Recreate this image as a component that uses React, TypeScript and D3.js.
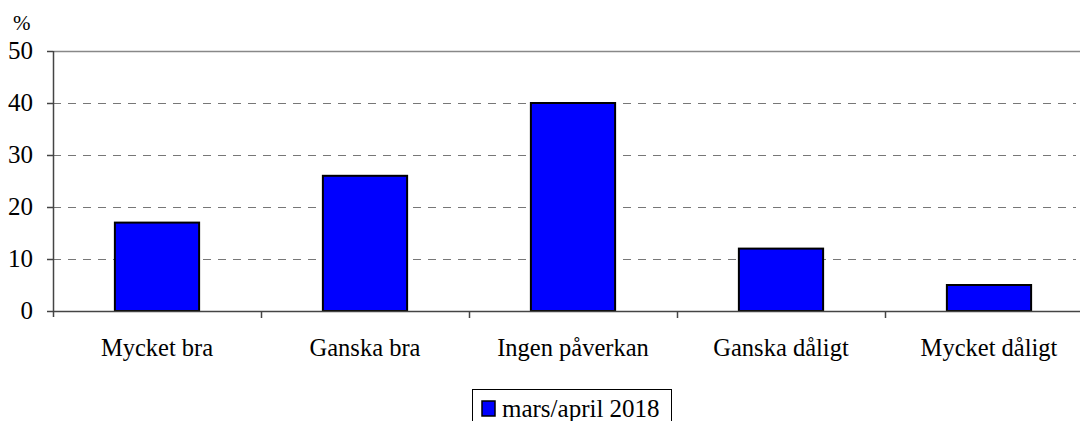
import React from "react";
import * as d3 from "d3";

const categories = ["Mycket bra", "Ganska bra", "Ingen påverkan", "Ganska dåligt", "Mycket dåligt"];
const values = [17, 26, 40, 12, 5];
const yTicks = [0, 10, 20, 30, 40, 50];
const seriesName = "mars/april 2018";
const unitLabel = "%";

export default function App() {
  const W = 1080, H = 421;
  const left = 53, top = 51, bottom = 311;
  const band = 208;
  const x = d3.scaleBand<string>().domain(categories).range([left, left + band * categories.length]).paddingInner(0).paddingOuter(0);
  const y = d3.scaleLinear().domain([0, 50]).range([bottom, top]);
  const barW = band * 0.405;
  const font = "'Liberation Serif', 'Times New Roman', serif";
  return (
    <svg width={W} height={H} style={{ position: "absolute", left: 0, top: 0 }} fontFamily={font}>
      <rect x={0} y={0} width={W} height={H} fill="#fff" />
      {yTicks.filter(t => t > 0 && t < 50).map(t => (
        <line key={t} x1={left} x2={1076} y1={y(t) + 0.5} y2={y(t) + 0.5} stroke="#777" strokeWidth={1} strokeDasharray="8,7" />
      ))}
      <line x1={left} x2={W} y1={y(50) + 0.5} y2={y(50) + 0.5} stroke="#888" strokeWidth={1.5} />
      {categories.map((c, i) => {
        const cx = (x(c) as number) + band / 2;
        return (
          <rect key={c} x={cx - barW / 2} y={y(values[i])} width={barW} height={bottom - y(values[i])} fill="#0000FF" stroke="#000" strokeWidth={2} />
        );
      })}
      <line x1={left} x2={W} y1={bottom + 0.5} y2={bottom + 0.5} stroke="#444" strokeWidth={1.5} />
      <line x1={left + 0.5} x2={left + 0.5} y1={top} y2={bottom + 6} stroke="#444" strokeWidth={1.5} />
      {yTicks.map(t => (
        <g key={t}>
          <line x1={left - 6} x2={left} y1={y(t) + 0.5} y2={y(t) + 0.5} stroke="#444" strokeWidth={1.5} />
          <text x={left - 20} y={y(t) + 8} textAnchor="end" fontSize={25} fill="#000">{t}</text>
        </g>
      ))}
      {categories.map((c, i) => {
        const x0 = (x(c) as number) + band;
        return i < categories.length - 1 ? (
          <line key={"t" + c} x1={x0 + 0.5} x2={x0 + 0.5} y1={bottom} y2={bottom + 7} stroke="#444" strokeWidth={1.5} />
        ) : null;
      })}
      {categories.map(c => (
        <text key={"l" + c} x={(x(c) as number) + band / 2} y={356} textAnchor="middle" fontSize={24.5} fill="#000">{c}</text>
      ))}
      <text x={13} y={30} fontSize={21} fill="#000" style={{ fontFamily: font }}>{unitLabel}</text>
      <rect x={472.5} y={389.5} width={199} height={40} fill="#fff" stroke="#000" strokeWidth={1} />
      <rect x={482} y={401} width={13} height={15} fill="#0000FF" stroke="#000" strokeWidth={1.5} />
      <text x={502} y={417} fontSize={25} fill="#000">{seriesName}</text>
    </svg>
  );
}
